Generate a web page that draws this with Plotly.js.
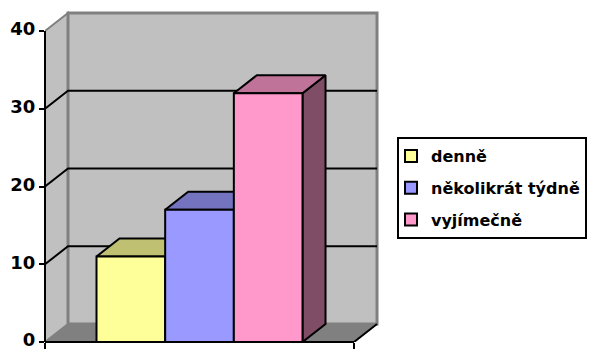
<!DOCTYPE html>
<html>
<head>
<meta charset="utf-8">
<script src="https://cdn.plot.ly/plotly-3.0.1.min.js"></script>
<style>
  html, body { margin: 0; padding: 0; background: #ffffff; }
  #chart { width: 593px; height: 349px; }
</style>
</head>
<body>
<div id="chart"></div>
<script>
// Survey answers: how often
const categories = ['denně', 'několikrát týdně', 'vyjímečně'];
const values = [11, 17, 32];
const yTicks = [0, 10, 20, 30, 40];
const yTickText = ['0', '10', '20', '30', '40'];

// Face colours for each column (front, top, side)
const frontColors = ['#FFFF99', '#9999FF', '#FF99CC'];
const topColors = ['#C0C073', '#7373BF', '#BF7399'];
const sideColors = ['#80804D', '#4D4D80', '#804D66'];

// 3-D box geometry (axis units)
const BAR_W = 1;
const FLOOR_X0 = -1.25, FLOOR_X1 = 3.25;
const DX = 0.335, DY = 2.315;      // depth offset of the back wall
const Y_TOP = 40;

const BACK_X0 = FLOOR_X0 + DX, BACK_X1 = FLOOR_X1 + DX;
const FONT = 'DejaVu Sans, Verdana, sans-serif';

const traces = [];
categories.forEach((name, i) => {
  const v = values[i];
  const l = i - BAR_W / 2, r = i + BAR_W / 2;
  // side face
  traces.push({
    type: 'scatter', mode: 'lines', fill: 'toself',
    x: [r, r + DX, r + DX, r, r], y: [0, DY, v + DY, v, 0],
    fillcolor: sideColors[i], line: {color: '#000', width: 2},
    showlegend: false, hoverinfo: 'skip', zorder: 10 + 3 * i
  });
  // top face
  traces.push({
    type: 'scatter', mode: 'lines', fill: 'toself',
    x: [l, r, r + DX, l + DX, l], y: [v, v, v + DY, v + DY, v],
    fillcolor: topColors[i], line: {color: '#000', width: 2},
    showlegend: false, hoverinfo: 'skip', zorder: 11 + 3 * i
  });
  // front face
  traces.push({
    type: 'bar', name: '<b>' + name + '</b>', x: [i], y: [v], width: BAR_W,
    legendgroup: 'g' + i,
    marker: {color: frontColors[i], line: {color: '#000', width: 2}},
    zorder: 12 + 3 * i
  });
});

const shapes = [];
// left wall
shapes.push({
  type: 'path', layer: 'below', xref: 'x', yref: 'y',
  path: `M${FLOOR_X0},0 L${FLOOR_X0},${Y_TOP} L${BACK_X0},${Y_TOP + DY} L${BACK_X0},${DY} Z`,
  fillcolor: '#C0C0C0', line: {color: '#808080', width: 2}
});
// back wall
shapes.push({
  type: 'rect', layer: 'below', xref: 'x', yref: 'y',
  x0: BACK_X0, x1: BACK_X1, y0: DY, y1: Y_TOP + DY,
  fillcolor: '#C0C0C0', line: {color: '#808080', width: 3}
});
// floor
shapes.push({
  type: 'path', layer: 'below', xref: 'x', yref: 'y',
  path: `M${FLOOR_X0},0 L${FLOOR_X1},0 L${BACK_X1},${DY} L${BACK_X0},${DY} Z`,
  fillcolor: '#808080', line: {color: '#808080', width: 1}
});
// gridlines running across the left and back walls
yTicks.filter(t => t > 0 && t < Y_TOP).forEach(t => {
  shapes.push({
    type: 'path', layer: 'below', xref: 'x', yref: 'y',
    path: `M${FLOOR_X0},${t} L${BACK_X0},${t + DY} L${BACK_X1},${t + DY}`,
    line: {color: '#000', width: 2}
  });
});
// floor right edge
shapes.push({
  type: 'line', layer: 'above', xref: 'x', yref: 'y',
  x0: FLOOR_X1, y0: 0, x1: BACK_X1, y1: DY,
  line: {color: '#000', width: 2}
});
// value axis line
shapes.push({
  type: 'line', layer: 'above', xref: 'paper', yref: 'y',
  x0: 0, x1: 0, y0: 0, y1: Y_TOP,
  line: {color: '#000', width: 2}
});
// category axis line along the floor front edge
shapes.push({
  type: 'line', layer: 'above', xref: 'x', yref: 'paper',
  x0: FLOOR_X0, x1: FLOOR_X1, y0: 0, y1: 0,
  line: {color: '#000', width: 2}
});

const layout = {
  width: 593, height: 349,
  margin: {l: 45, r: 212, t: 9, b: 7},
  paper_bgcolor: '#ffffff', plot_bgcolor: 'rgba(0,0,0,0)',
  barmode: 'overlay', bargap: 0,
  hovermode: false,
  showlegend: true,
  legend: {
    xref: 'container', yref: 'container',
    x: 0.6695, xanchor: 'left', y: 0.6074, yanchor: 'top',
    bgcolor: '#ffffff', bordercolor: '#000', borderwidth: 2,
    traceorder: 'grouped', tracegroupgap: 8, indentation: -8,
    font: {family: FONT, size: 16, color: '#000'}
  },
  xaxis: {
    range: [FLOOR_X0, BACK_X1 + 0.058],
    showgrid: false, zeroline: false, showline: false,
    tickvals: [FLOOR_X0, FLOOR_X1], ticks: 'outside', ticklen: 7,
    tickwidth: 2, tickcolor: '#000', showticklabels: false, fixedrange: true
  },
  yaxis: {
    range: [0, Y_TOP + DY + 0.515],
    showgrid: false, zeroline: false, showline: false,
    tickvals: yTicks, ticktext: yTickText.map(t => '<b>' + t + '</b>'),
    ticks: 'outside', ticklen: 5, tickwidth: 2, tickcolor: '#000',
    ticklabeloverflow: 'allow', ticklabelshift: -2,
    tickfont: {family: FONT, size: 18, color: '#000'},
    fixedrange: true
  },
  shapes: shapes
};

Plotly.newPlot('chart', traces, layout, {staticPlot: true, displayModeBar: false});
</script>
</body>
</html>
